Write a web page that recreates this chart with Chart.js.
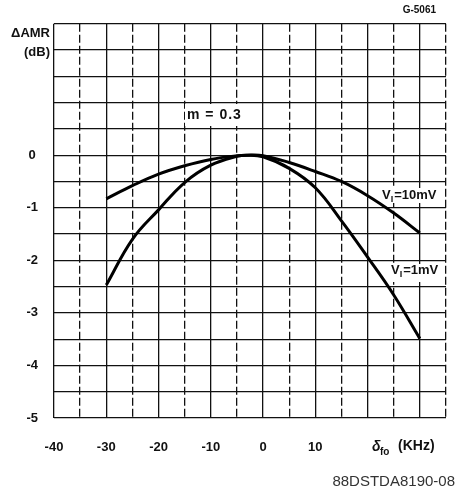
<!DOCTYPE html>
<html>
<head>
<meta charset="utf-8">
<script src="https://cdn.jsdelivr.net/npm/chart.js@4"></script>
<style>
    html, body { margin: 0; padding: 0; background: #fff; }
    #wrap { width: 457px; height: 493px; position: relative; }
</style>
</head>
<body>
<div id="wrap"><canvas id="amrChart"></canvas></div>
<script>
// frequency offset (kHz) and AMR change (dB)
const freqs = [-30, -25, -20, -15, -10, -5, -3, 0, 5, 10, 15, 20, 25, 30];
const amr10mV = [-0.83, -0.58, -0.36, -0.2, -0.08, -0.01, 0, -0.01, -0.14, -0.31, -0.5, -0.77, -1.1, -1.48];
const amr1mV = [-2.47, -1.6, -1.04, -0.52, -0.19, -0.02, 0, -0.03, -0.25, -0.62, -1.25, -1.94, -2.66, -3.49];
const xTickLabels = [-40, -30, -20, -10, 0, 10];
const yTickLabels = [0, -1, -2, -3, -4, -5];

const FONT = '"Liberation Sans", Arial, sans-serif';

function toPoints(ys) {
    return freqs.map((f, i) => ({ x: f, y: ys[i] }));
}

// white patches under the in-plot labels (grid is broken there), drawn before the curves
const patchPlugin = {
    id: 'patches',
    beforeDatasetsDraw(chart) {
        const ctx = chart.ctx;
        ctx.save();
        ctx.fillStyle = '#fff';
        ctx.fillRect(185, 104, 60, 22);
        ctx.fillRect(380, 188, 60, 15);
        ctx.fillRect(388, 264, 48, 18);
        ctx.restore();
    }
};

// extra text: title, axis names, curve labels
const textPlugin = {
    id: 'texts',
    afterDraw(chart) {
        const ctx = chart.ctx;
        const ys = chart.scales.y;
        ctx.save();
        ctx.textBaseline = 'middle';
        ctx.fillStyle = '#111';
        ctx.textAlign = 'left';

        ctx.font = 'bold 14px ' + FONT;
        ctx.letterSpacing = '1px';
        ctx.fillText('m = 0.3', 187, ys.getPixelForValue(0.76));
        ctx.letterSpacing = '0px';

        function vLabel(text, x, y) {
            ctx.font = 'bold 13px ' + FONT;
            ctx.fillText('V', x, y);
            const w = ctx.measureText('V').width;
            ctx.font = 'bold 9px ' + FONT;
            ctx.fillText('I', x + w, y + 4);
            const w2 = ctx.measureText('I').width;
            ctx.font = 'bold 13px ' + FONT;
            ctx.fillText(text, x + w + w2 + 1, y);
        }
        vLabel('=10mV', 382, ys.getPixelForValue(-0.77));
        vLabel('=1mV', 391, ys.getPixelForValue(-2.2));

        // y axis name
        ctx.textAlign = 'right';
        ctx.font = 'bold 13px ' + FONT;
        ctx.fillText('\u0394AMR', 50, 33);
        ctx.fillText('(dB)', 50, 52);

        // x axis name
        ctx.textAlign = 'left';
        ctx.font = 'italic bold 14px ' + FONT;
        ctx.fillText('\u03b4', 372, 447);
        ctx.font = 'bold 10px ' + FONT;
        ctx.fillText('fo', 380, 452);
        ctx.font = 'bold 14px ' + FONT;
        ctx.fillText('(KHz)', 398, 446);

        // figure codes
        ctx.textAlign = 'right';
        ctx.font = 'bold 10px ' + FONT;
        ctx.fillText('G-5061', 436, 10);
        ctx.font = '15px ' + FONT;
        ctx.fillStyle = '#333';
        ctx.fillText('88DSTDA8190-08', 455, 482);
        ctx.restore();
    }
};

function renderAmrChart() {
    const ctx = document.getElementById('amrChart').getContext('2d');
    new Chart(ctx, {
        type: 'line',
        data: {
            datasets: [{
                label: 'VI=10mV',
                data: toPoints(amr10mV),
                borderColor: '#000',
                borderWidth: 3,
                pointRadius: 0,
                tension: 0.4,
                fill: false
            }, {
                label: 'VI=1mV',
                data: toPoints(amr1mV),
                borderColor: '#000',
                borderWidth: 3,
                pointRadius: 0,
                tension: 0.4,
                fill: false
            }]
        },
        options: {
            responsive: true,
            maintainAspectRatio: false,
            animation: false,
            layout: { padding: { top: 23, right: 11, left: 0, bottom: 0 } },
            plugins: {
                legend: { display: false },
                tooltip: { enabled: false }
            },
            scales: {
                x: {
                    type: 'linear',
                    min: -40,
                    max: 35,
                    afterFit: (scale) => {
                        scale.height = 75;
                        scale.paddingLeft = 0;
                        scale.paddingRight = 0;
                    },
                    ticks: {
                        stepSize: 5,
                        autoSkip: false,
                        maxRotation: 0,
                        padding: 22,
                        color: '#111',
                        font: { family: FONT, size: 13, weight: 'bold' },
                        callback: (v) => xTickLabels.includes(v) ? String(v) : ''
                    },
                    grid: { color: '#111', lineWidth: 1.3, drawTicks: false },
                    border: {
                        display: false,
                        dash: (c) => (c.tick && Math.abs(c.tick.value % 10) === 5) ? [8, 3] : []
                    }
                },
                y: {
                    min: -5,
                    max: 2.5,
                    afterFit: (scale) => { scale.width = 54; },
                    ticks: {
                        stepSize: 0.5,
                        autoSkip: false,
                        crossAlign: 'center',
                        padding: 16,
                        color: '#111',
                        font: { family: FONT, size: 13, weight: 'bold' },
                        callback: (v) => yTickLabels.includes(v) ? String(v) : ''
                    },
                    grid: { color: '#111', lineWidth: 1.3, drawTicks: false },
                    border: { display: false }
                }
            }
        },
        plugins: [patchPlugin, textPlugin]
    });
}

document.addEventListener('DOMContentLoaded', () => {
    renderAmrChart();
});
</script>
</body>
</html>
